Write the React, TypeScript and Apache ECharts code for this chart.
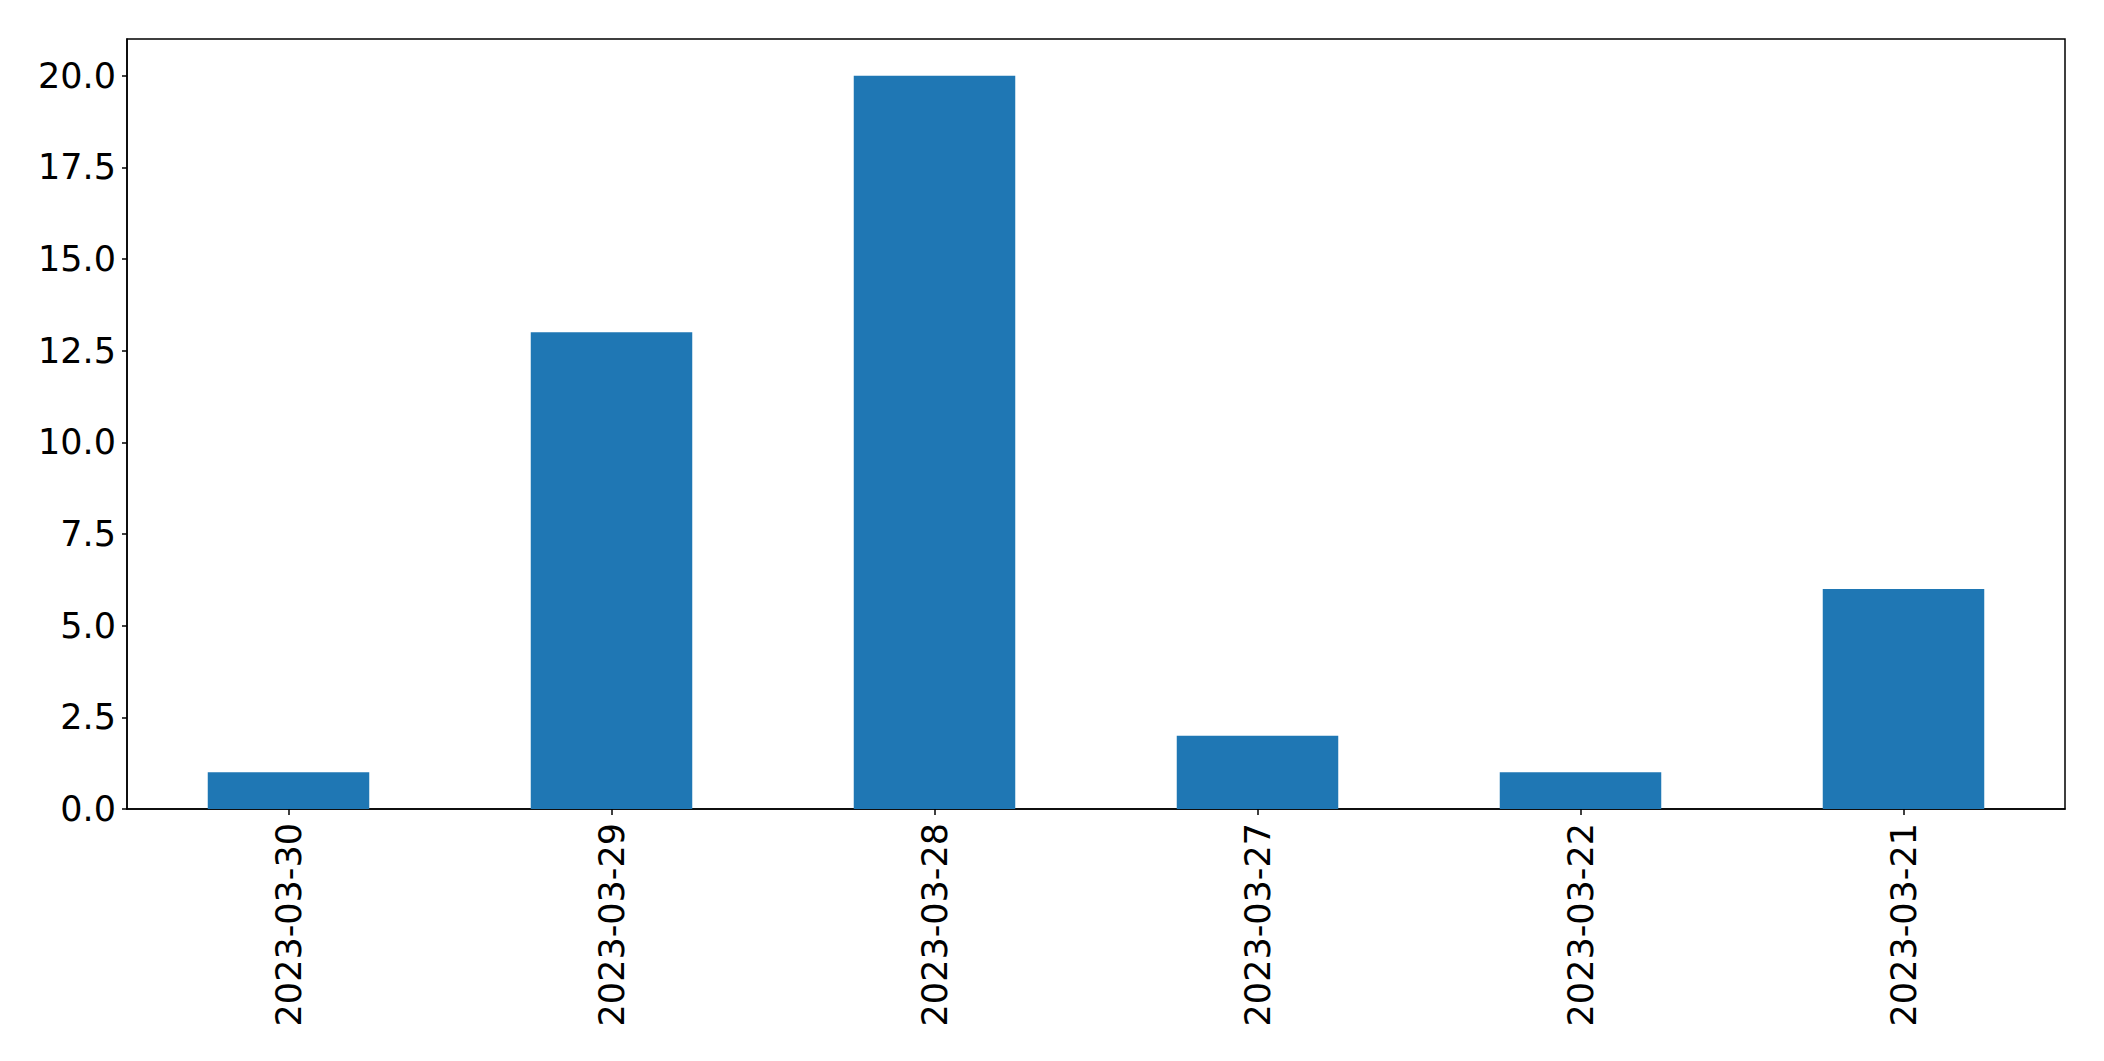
import React, { useEffect, useRef } from "react";
import * as echarts from "echarts";

const categories = ["2023-03-30", "2023-03-29", "2023-03-28", "2023-03-27", "2023-03-22", "2023-03-21"];
const values = [1, 13, 20, 2, 1, 6];
const yTicks = [0, 2.5, 5, 7.5, 10, 12.5, 15, 17.5, 20];

export default function App() {
  const ref = useRef<HTMLDivElement>(null);
  useEffect(() => {
    document.body.style.margin = "0";
    const chart = echarts.init(ref.current!, null, { renderer: "svg" });
    const font = "'DejaVu Sans', sans-serif";
    chart.setOption({
      animation: false,
      backgroundColor: "#fff",
      grid: {
        left: 127,
        top: 39,
        right: 39,
        bottom: 252,
        show: true,
        borderColor: "#000",
        borderWidth: 1.5,
        backgroundColor: "transparent",
      },
      xAxis: {
        type: "category",
        data: categories,
        boundaryGap: true,
        axisLine: { show: true, lineStyle: { color: "#000", width: 1.5 } },
        axisTick: { show: true, alignWithLabel: true, length: 6, lineStyle: { color: "#000", width: 1.5 } },
        axisLabel: {
          rotate: 90,
          interval: 0,
          margin: 14,
          color: "#000",
          fontSize: 35,
          fontFamily: font,
        },
        splitLine: { show: false },
      },
      yAxis: {
        type: "value",
        min: 0,
        max: 21,
        interval: 2.5,
        axisLine: { show: true, lineStyle: { color: "#000", width: 1.5 } },
        axisTick: { show: true, length: 5, customValues: yTicks, lineStyle: { color: "#000", width: 1.5 } },
        axisLabel: {
          customValues: yTicks,
          margin: 11,
          color: "#000",
          fontSize: 35,
          fontFamily: font,
          formatter: (v: number) => v.toFixed(1),
        },
        splitLine: { show: false },
      },
      series: [
        {
          type: "bar",
          data: values,
          barWidth: "50%",
          itemStyle: { color: "#1f77b4" },
        },
      ],
    });
    return () => chart.dispose();
  }, []);
  return <div ref={ref} style={{ position: "absolute", left: 0, top: 0, width: 2104, height: 1061 }} />;
}
